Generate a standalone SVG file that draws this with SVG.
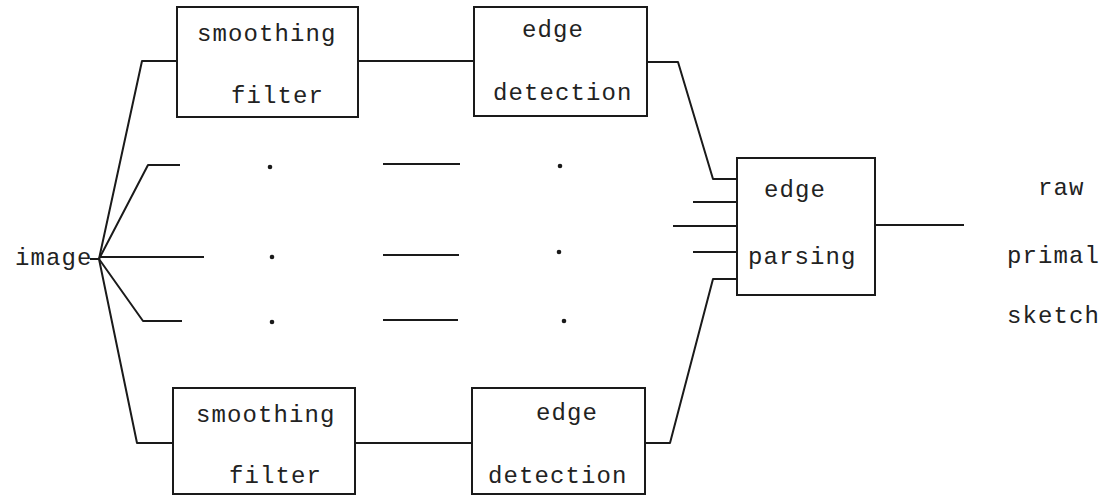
<svg xmlns="http://www.w3.org/2000/svg" width="1108" height="496" viewBox="0 0 1108 496">
  <style>
    .box { fill: #fff; stroke: #1a1a1a; stroke-width: 2; }
    .wire { fill: none; stroke: #1a1a1a; stroke-width: 2; stroke-linejoin: round; }
    .dot { fill: #1a1a1a; }
    text { font-family: "Liberation Mono", "DejaVu Sans Mono", monospace; font-size: 24px; letter-spacing: 1.1px; fill: #222; }
  </style>
  <rect width="1108" height="496" fill="#fff"/>

  <!-- connectors -->
  <g id="connectors">
    <!-- image fan-out -->
    <polyline class="wire" points="99,259 142,61 177,61"/>
    <polyline class="wire" points="99,259 148,165 180,165"/>
    <polyline class="wire" points="99,257 204,257"/>
    <polyline class="wire" points="99,259 143,321 182,321"/>
    <polyline class="wire" points="99,259 137,443 173,443"/>
    <line class="wire" x1="90" y1="259" x2="99" y2="259"/>
    <!-- filter to detector -->
    <line class="wire" x1="358" y1="61" x2="474" y2="61"/>
    <line class="wire" x1="355" y1="443" x2="472" y2="443"/>
    <line class="wire" x1="383" y1="164" x2="460" y2="164"/>
    <line class="wire" x1="383" y1="255" x2="459" y2="255"/>
    <line class="wire" x1="383" y1="320" x2="458" y2="320"/>
    <!-- detector to parser -->
    <polyline class="wire" points="647,62 678,62 713,179 737,179"/>
    <polyline class="wire" points="645,443 670,443 713,279 737,279"/>
    <line class="wire" x1="693" y1="202" x2="737" y2="202"/>
    <line class="wire" x1="673" y1="226" x2="737" y2="226"/>
    <line class="wire" x1="693" y1="252" x2="737" y2="252"/>
    <!-- output -->
    <line class="wire" x1="875" y1="225" x2="964" y2="225"/>
    <!-- ellipsis dots -->
    <circle class="dot" cx="270" cy="167" r="2.3"/>
    <circle class="dot" cx="272" cy="257" r="2.3"/>
    <circle class="dot" cx="272" cy="322" r="2.3"/>
    <circle class="dot" cx="560" cy="166" r="2.3"/>
    <circle class="dot" cx="559" cy="252" r="2.3"/>
    <circle class="dot" cx="564" cy="321" r="2.3"/>
  </g>

  <g id="image">
    <text x="15" y="265">image</text>
  </g>

  <g id="smooth-top">
    <rect class="box" x="177" y="7" width="181" height="110"/>
    <text x="197" y="41">smoothing</text>
    <text x="231" y="103">filter</text>
  </g>

  <g id="edge-top">
    <rect class="box" x="474" y="7" width="173" height="109"/>
    <text x="522" y="37">edge</text>
    <text x="493" y="100">detection</text>
  </g>

  <g id="smooth-bottom">
    <rect class="box" x="173" y="388" width="182" height="106"/>
    <text x="196" y="422">smoothing</text>
    <text x="229" y="483">filter</text>
  </g>

  <g id="edge-bottom">
    <rect class="box" x="472" y="388" width="173" height="106"/>
    <text x="536" y="420">edge</text>
    <text x="488" y="483">detection</text>
  </g>

  <g id="edge-parsing">
    <rect class="box" x="737" y="158" width="138" height="137"/>
    <text x="764" y="197">edge</text>
    <text x="748" y="264">parsing</text>
  </g>

  <g id="raw-primal-sketch">
    <text x="1038" y="195">raw</text>
    <text x="1007" y="263">primal</text>
    <text x="1007" y="323">sketch</text>
  </g>
</svg>
